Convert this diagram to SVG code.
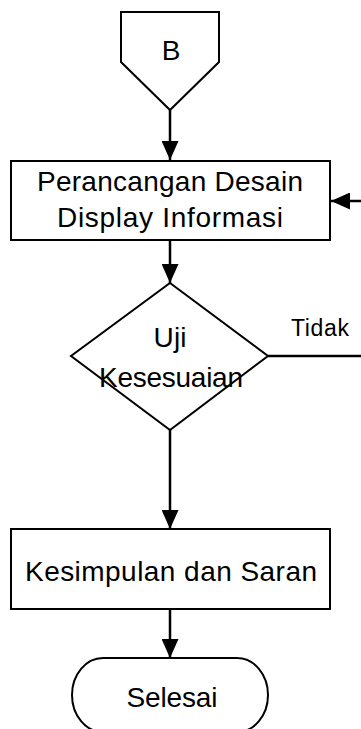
<svg xmlns="http://www.w3.org/2000/svg" width="361" height="729" viewBox="0 0 361 729">
  <style>
    .shape { fill: #ffffff; stroke: #000000; stroke-width: 2; }
    .conn { fill: none; stroke: #000000; stroke-width: 2.5; }
    .lbl { font-family: "Liberation Sans", Arial, sans-serif; font-size: 28px; fill: #000000; text-anchor: middle; }
    .small { font-family: "Liberation Sans", Arial, sans-serif; font-size: 23px; fill: #000000; text-anchor: middle; }
  </style>
  <defs>
    <marker id="arrow" viewBox="0 0 19 17" refX="19" refY="8.5" markerWidth="19" markerHeight="17" markerUnits="userSpaceOnUse" orient="auto">
      <path d="M0,0 L19,8.5 L0,17 Z" fill="#000000"/>
    </marker>
  </defs>

  <!-- connectors -->
  <g id="connectors">
    <line class="conn" x1="170" y1="110" x2="170" y2="160" marker-end="url(#arrow)"/>
    <line class="conn" x1="361" y1="201" x2="331" y2="201" marker-end="url(#arrow)"/>
    <line class="conn" x1="170" y1="240" x2="170" y2="283" marker-end="url(#arrow)"/>
    <line class="conn" x1="268" y1="356" x2="361" y2="356"/>
    <line class="conn" x1="170" y1="430" x2="170" y2="529" marker-end="url(#arrow)"/>
    <line class="conn" x1="170" y1="609" x2="170" y2="658" marker-end="url(#arrow)"/>
  </g>

  <!-- off-page connector B -->
  <g id="node-b">
    <polygon class="shape" stroke-width="1.6" points="121,12 219,12 219,62 170,110 121,62"/>
    <text class="lbl" x="171" y="60">B</text>
  </g>

  <!-- process: design -->
  <g id="node-design">
    <rect class="shape" x="11" y="161" width="319" height="79"/>
    <text class="lbl" x="170" y="191" textLength="266" lengthAdjust="spacing">Perancangan Desain</text>
    <text class="lbl" x="170" y="227" textLength="226" lengthAdjust="spacing">Display Informasi</text>
  </g>

  <!-- decision -->
  <g id="node-test">
    <polygon class="shape" stroke-width="1.6" points="170,283 268,356 170,430 71,356"/>
    <text class="lbl" x="170" y="347" textLength="33" lengthAdjust="spacing">Uji</text>
    <text class="lbl" x="171" y="387" textLength="144" lengthAdjust="spacing">Kesesuaian</text>
  </g>

  <!-- branch label -->
  <g id="label-tidak">
    <text class="small" x="320" y="336" textLength="58" lengthAdjust="spacing">Tidak</text>
  </g>

  <!-- process: conclusion -->
  <g id="node-conclusion">
    <rect class="shape" x="11" y="529" width="319" height="80"/>
    <text class="lbl" x="171" y="581" textLength="292" lengthAdjust="spacing">Kesimpulan dan Saran</text>
  </g>

  <!-- terminator -->
  <g id="node-end">
    <rect class="shape" x="72" y="658" width="196" height="74" rx="31" ry="37"/>
    <text class="lbl" x="172" y="707" textLength="91" lengthAdjust="spacing">Selesai</text>
  </g>
</svg>
